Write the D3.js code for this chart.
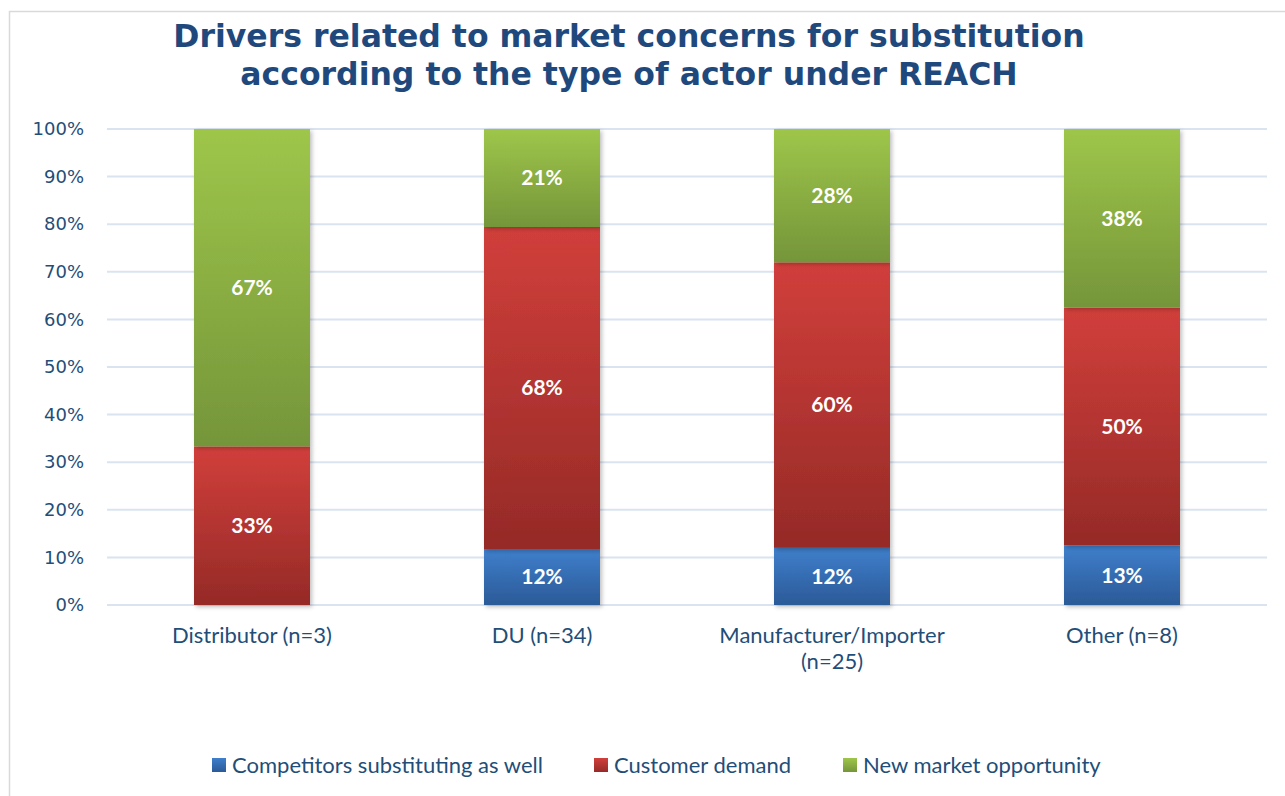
<!DOCTYPE html>
<html>
<head>
<meta charset="utf-8">
<script src="https://cdn.jsdelivr.net/npm/d3@7"></script>
<style>
  html, body { margin: 0; padding: 0; background: #ffffff; }
  svg { display: block; }
</style>
</head>
<body>
<svg id="chart" width="1285" height="796"></svg>
<script>
// Share of respondents (%) citing each market driver, by actor type
const categories = ["Distributor (n=3)", "DU (n=34)", "Manufacturer/Importer (n=25)", "Other (n=8)"];
const competitorsSubstituting = [0, 11.76, 12, 12.5];
const customerDemand = [33.33, 67.65, 60, 50];
const newMarketOpportunity = [66.67, 20.59, 28, 37.5];
const seriesNames = ["Competitors substituting as well", "Customer demand", "New market opportunity"];
const yTicks = [0, 10, 20, 30, 40, 50, 60, 70, 80, 90, 100];
const titleLines = ["Drivers related to market concerns for substitution", "according to the type of actor under REACH"];

const textColor = "#1f4e79";
const seriesColors = [
  { top: "#3f7fcc", bottom: "#2b5a97" },
  { top: "#d13f3b", bottom: "#952a27" },
  { top: "#9ec64a", bottom: "#75953a" }
];

const rows = categories.map((c, i) => ({
  category: c,
  s0: competitorsSubstituting[i],
  s1: customerDemand[i],
  s2: newMarketOpportunity[i]
}));

const svg = d3.select("#chart");
const W = 1285, H = 796;

// outer chart frame
svg.append("rect")
  .attr("x", 9.5).attr("y", 11.5)
  .attr("width", W + 20).attr("height", H + 20)
  .attr("fill", "#ffffff")
  .attr("stroke", "#d9d9d9").attr("stroke-width", 1.5);

const defs = svg.append("defs");
seriesColors.forEach((c, i) => {
  const g = defs.append("linearGradient")
    .attr("id", "grad" + i)
    .attr("x1", 0).attr("y1", 0).attr("x2", 0).attr("y2", 1);
  g.append("stop").attr("offset", "0%").attr("stop-color", c.top);
  g.append("stop").attr("offset", "100%").attr("stop-color", c.bottom);
});
const shadow = defs.append("filter").attr("id", "barShadow")
  .attr("x", "-10%").attr("y", "-10%").attr("width", "130%").attr("height", "130%");
shadow.append("feDropShadow")
  .attr("dx", 2).attr("dy", 2).attr("stdDeviation", 2)
  .attr("flood-color", "#000000").attr("flood-opacity", 0.25);

const plot = { left: 107, right: 1267, top: 129, bottom: 605 };

const x = d3.scaleBand()
  .domain(categories)
  .range([plot.left, plot.right])
  .paddingInner(0.6)
  .paddingOuter(0.3);

const y = d3.scaleLinear()
  .domain([0, 100])
  .range([plot.bottom, plot.top]);

// title
const title = svg.append("text")
  .attr("text-anchor", "middle")
  .attr("font-family", "DejaVu Sans, Verdana, sans-serif")
  .attr("font-weight", "bold")
  .attr("font-size", 31.5)
  .attr("fill", "#1f497d");
titleLines.forEach((t, i) => {
  title.append("tspan").attr("x", 629).attr("y", 47 + i * 38).text(t);
});

// gridlines
svg.append("g")
  .selectAll("line")
  .data(yTicks)
  .join("line")
  .attr("x1", plot.left).attr("x2", plot.right)
  .attr("y1", d => y(d)).attr("y2", d => y(d))
  .attr("stroke", "#dae4f1").attr("stroke-width", 2);

// y axis labels
const yAxis = d3.axisLeft(y)
  .tickValues(yTicks)
  .tickFormat(d => d + "%")
  .tickSize(0)
  .tickPadding(0);
const yG = svg.append("g")
  .attr("transform", `translate(${84},0)`)
  .call(yAxis);
yG.select(".domain").remove();
yG.selectAll("text")
  .attr("font-family", "DejaVu Sans, Verdana, sans-serif")
  .attr("font-size", 18)
  .attr("fill", textColor);

// stacked bars
const stack = d3.stack().keys(["s0", "s1", "s2"]);
const layers = stack(rows);

const barsG = svg.append("g");
layers.forEach((layer, li) => {
  barsG.append("g")
    .selectAll("rect")
    .data(layer.filter(d => d[1] - d[0] > 0))
    .join("rect")
    .attr("x", d => x(d.data.category))
    .attr("width", x.bandwidth())
    .attr("y", d => y(d[1]))
    .attr("height", d => y(d[0]) - y(d[1]))
    .attr("fill", `url(#grad${li})`)
    .attr("filter", "url(#barShadow)");
});

// value labels
layers.forEach(layer => {
  svg.append("g")
    .selectAll("text")
    .data(layer.filter(d => d[1] - d[0] > 0))
    .join("text")
    .attr("x", d => x(d.data.category) + x.bandwidth() / 2)
    .attr("y", d => (y(d[0]) + y(d[1])) / 2)
    .attr("dy", "0.35em")
    .attr("text-anchor", "middle")
    .attr("font-family", "Lato, Calibri, sans-serif")
    .attr("font-weight", "bold")
    .attr("font-size", 21)
    .attr("fill", "#ffffff")
    .text(d => Math.round(d[1] - d[0]) + "%");
});

// category axis labels (wrapped)
const xG = svg.append("g");
const wrapWidth = 270;
categories.forEach(cat => {
  const t = xG.append("text")
    .attr("text-anchor", "middle")
    .attr("font-family", "Lato, Calibri, sans-serif")
    .attr("font-size", 22)
    .attr("fill", textColor);
  const words = cat.split(" ");
  let lines = [], line = [];
  const probe = t.append("tspan");
  words.forEach(w => {
    const test = line.concat(w).join(" ");
    probe.text(test);
    if (probe.node().getComputedTextLength() > wrapWidth && line.length) {
      lines.push(line.join(" "));
      line = [w];
    } else {
      line.push(w);
    }
  });
  lines.push(line.join(" "));
  probe.remove();
  lines.forEach((l, i) => {
    t.append("tspan")
      .attr("x", x(cat) + x.bandwidth() / 2)
      .attr("y", 643 + i * 26)
      .text(l);
  });
});

// legend
const legend = svg.append("g").attr("font-family", "Lato, Calibri, sans-serif").attr("font-size", 22).attr("fill", textColor);
const legendX = [212, 594, 843];
seriesNames.forEach((name, i) => {
  const g = legend.append("g").attr("transform", `translate(${legendX[i]},${758})`);
  g.append("rect").attr("width", 14).attr("height", 14).attr("fill", `url(#grad${i})`);
  g.append("text").attr("x", 20).attr("y", 7).attr("dy", "0.35em").text(name);
});
</script>
</body>
</html>
